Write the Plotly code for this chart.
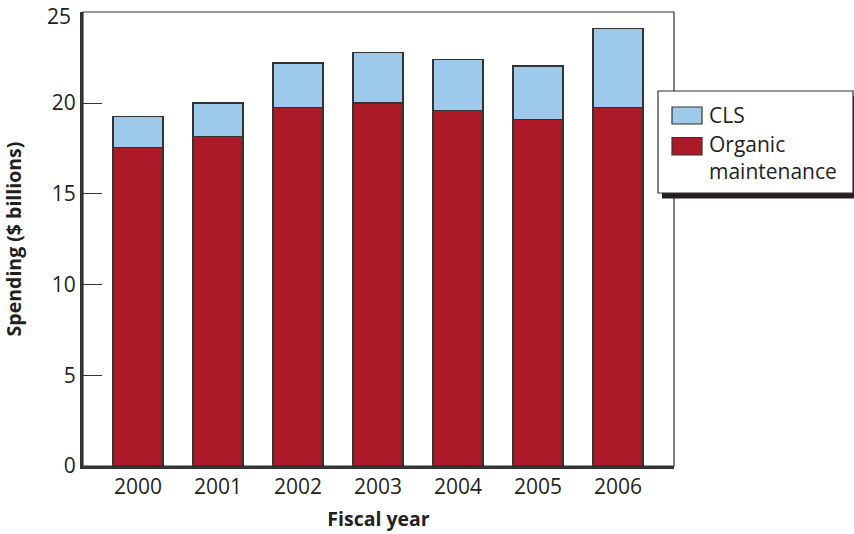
import plotly.graph_objects as go

years = [2000, 2001, 2002, 2003, 2004, 2005, 2006]
organic = [17.55, 18.15, 19.75, 20.0, 19.6, 19.1, 19.75]
cls = [1.7, 1.85, 2.45, 2.8, 2.8, 2.95, 4.35]
y_ticks = [0, 5, 10, 15, 20, 25]
series_names = ["CLS", "Organic maintenance"]

RED = "#AC1A28"
BLUE = "#9DCAEB"
EDGE = "#333333"
TXT = "#231F20"
FONT = "Open Sans"

fig = go.Figure()
fig.add_trace(go.Bar(x=years, y=organic, name=series_names[1], width=0.62,
                     marker=dict(color=RED, line=dict(color=EDGE, width=1.5)),
                     showlegend=False))
fig.add_trace(go.Bar(x=years, y=cls, name=series_names[0], width=0.62,
                     marker=dict(color=BLUE, line=dict(color=EDGE, width=1.5)),
                     showlegend=False))

W, H = 854, 534
L, R, T, B = 83, 180, 12, 68
pw, ph = W - L - R, H - T - B
def px(x):
    return (x - L) / pw
def py(y):
    return (H - B - y) / ph

shapes = [
    dict(type="rect", xref="paper", yref="paper", x0=0, x1=1, y0=0, y1=1,
         line=dict(color=EDGE, width=1.2), layer="above"),
    dict(type="rect", xref="paper", yref="paper", x0=px(662), x1=px(860), y0=py(198.5), y1=py(96),
         fillcolor="#231F20", line=dict(width=0), layer="above"),
    dict(type="rect", xref="paper", yref="paper", x0=px(658), x1=px(853), y0=py(193), y1=py(91),
         fillcolor="white", line=dict(color=EDGE, width=1.2), layer="above"),
    dict(type="rect", xref="paper", yref="paper", x0=px(672), x1=px(702), y0=py(124), y1=py(107),
         fillcolor=BLUE, line=dict(color=EDGE, width=1.2), layer="above"),
    dict(type="rect", xref="paper", yref="paper", x0=px(672), x1=px(702), y0=py(155), y1=py(137.5),
         fillcolor=RED, line=dict(color=EDGE, width=1.2), layer="above"),
]
# top tick label sits slightly below the frame in the reference
top_label = str(y_ticks[-1])
annotations = [
    dict(xref="paper", yref="paper", x=px(73), y=py(16), text=top_label, showarrow=False,
         xanchor="right", yanchor="middle", font=dict(family=FONT, size=21, color=TXT)),
    dict(xref="paper", yref="paper", x=px(707), y=py(115), text=series_names[0], showarrow=False,
         xanchor="left", yanchor="middle", font=dict(family=FONT, size=21, color=TXT)),
    dict(xref="paper", yref="paper", x=px(707), y=py(158), text="Organic<br>maintenance", showarrow=False,
         xanchor="left", yanchor="middle", align="left", font=dict(family=FONT, size=21, color=TXT)),
]

fig.update_layout(
    width=W, height=H,
    margin=dict(l=L, r=R, t=T, b=B),
    barmode="stack",
    plot_bgcolor="white", paper_bgcolor="white",
    font=dict(family=FONT, color=TXT, size=20),
    shapes=shapes, annotations=annotations,
    xaxis=dict(range=[1999.3125, 2006.7], tickvals=years, ticktext=[str(y) for y in years],
               showgrid=False, zeroline=False, showline=True, linewidth=3, linecolor=EDGE,
               ticks="", tickfont=dict(size=21, family=FONT, color=TXT), automargin=False,
               title=dict(text="<b>Fiscal year</b>", font=dict(size=19.5, family=FONT, color=TXT), standoff=14)),
    yaxis=dict(range=[0, 25.02], tickvals=y_ticks,
               ticktext=[str(v) for v in y_ticks[:-1]] + [""],
               showgrid=False, zeroline=False,
               showline=True, linewidth=3, linecolor=EDGE,
               ticks="inside", ticklen=19, tickwidth=1.2, tickcolor=EDGE,
               tickfont=dict(size=21, family=FONT, color=TXT), automargin=False,
               title=dict(text="<b>Spending ($ billions)</b>", font=dict(size=19.5, family=FONT, color=TXT), standoff=25)),
)

fig.write_html("out.html", config={"displayModeBar": False},
               post_script="document.body.style.margin='0';document.body.style.padding='0';")
